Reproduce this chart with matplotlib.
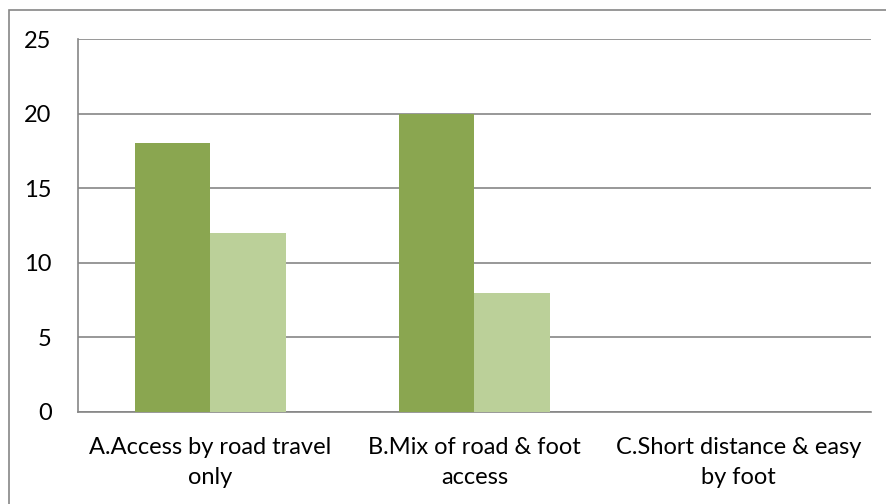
import matplotlib
matplotlib.use("Agg")
import matplotlib.pyplot as plt
from matplotlib.patches import Rectangle
import numpy as np

categories = ["A.Access by road travel\nonly", "B.Mix of road & foot\naccess", "C.Short distance & easy\nby foot"]
series1 = [18, 20, 0]
series2 = [12, 8, 0]
yticks = [0, 5, 10, 15, 20, 25]

plt.rcParams['font.family'] = ['Lato', 'DejaVu Sans']

fig = plt.figure(figsize=(8.87, 5.04), dpi=100)
W, H = 887, 504
ax = fig.add_axes([78 / W, 1 - 412 / H, (871 - 78) / W, (412 - 39) / H])

x = np.arange(len(categories))
bw = 0.285
ax.bar(x - bw / 2, series1, width=bw, color="#8aa650", zorder=3)
ax.bar(x + bw / 2, series2, width=bw, color="#bbd099", zorder=3)

ax.set_xlim(-0.5, 2.5)
ax.set_ylim(0, 25)
ax.set_yticks(yticks)
ax.set_yticklabels([str(v) for v in yticks], fontsize=17)
ax.set_xticks(x)
ax.set_xticklabels(categories, fontsize=17, linespacing=1.55)
ax.tick_params(axis='both', length=0)
ax.tick_params(axis='x', pad=18)
ax.tick_params(axis='y', pad=19)
ax.grid(axis='y', color='#868686', linewidth=1.2, zorder=0)
for s in ['top', 'right']:
    ax.spines[s].set_visible(False)
for s in ['left', 'bottom']:
    ax.spines[s].set_color('#868686')
    ax.spines[s].set_linewidth(1.2)

fig.patches.append(Rectangle((9 / W, -0.1), 1.2, (504 - 10) / H + 0.1,
                             transform=fig.transFigure, fill=False,
                             edgecolor='#868686', linewidth=1.2))

fig.savefig("out.png", dpi=100)
